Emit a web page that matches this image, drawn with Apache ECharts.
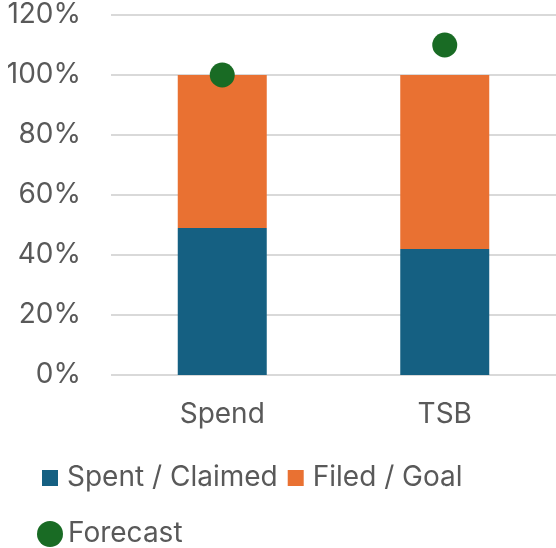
<!DOCTYPE html>
<html>
<head>
<meta charset="utf-8">
<script src="https://cdn.jsdelivr.net/npm/echarts@6/dist/echarts.min.js"></script>
<style>
  html, body { margin: 0; padding: 0; background: #fff; }
  #chart { width: 556px; height: 548px; }
</style>
</head>
<body>
<div id="chart"></div>
<script>
  const categories = ['Spend', 'TSB']
  const spentClaimed = [49, 42]
  const filedGoal = [51, 58]
  const forecast = [100, 110]

  const FONT = 'Inter, "Noto Sans", sans-serif'
  const TEXT = '#595959'

  const chart = echarts.init(document.getElementById('chart'))
  const option = {
    animation: false,
    textStyle: { fontFamily: FONT },
    grid: { left: 111, right: 0, top: 15, bottom: 173 },
    legend: [
      {
        data: ['Spent / Claimed', 'Filed / Goal'],
        left: 37,
        top: 459,
        itemWidth: 16,
        itemHeight: 16,
        itemGap: 10,
        icon: 'rect',
        textStyle: { fontSize: 28, color: TEXT, fontFamily: FONT, padding: [0, 0, 0, 4] }
      },
      {
        data: ['Forecast'],
        left: 32,
        top: 515,
        itemWidth: 26,
        itemHeight: 26,
        icon: 'circle',
        textStyle: { fontSize: 28, color: TEXT, fontFamily: FONT }
      }
    ],
    xAxis: {
      type: 'category',
      data: categories,
      axisLine: { show: false },
      axisTick: { show: false },
      axisLabel: { fontSize: 28, color: TEXT, margin: 26 }
    },
    yAxis: {
      type: 'value',
      min: 0,
      max: 120,
      interval: 20,
      axisLabel: { fontSize: 28, color: TEXT, margin: 30, formatter: '{value}%' },
      splitLine: { lineStyle: { color: '#d9d9d9', width: 2 } }
    },
    series: [
      {
        name: 'Spent / Claimed',
        type: 'bar',
        stack: 'total',
        barWidth: '40%',
        itemStyle: { color: '#156082' },
        data: spentClaimed
      },
      {
        name: 'Filed / Goal',
        type: 'bar',
        stack: 'total',
        itemStyle: { color: '#E97132' },
        data: filedGoal
      },
      {
        name: 'Forecast',
        type: 'scatter',
        symbol: 'circle',
        symbolSize: 25,
        itemStyle: { color: '#196B24', opacity: 1 },
        data: forecast,
        z: 5
      }
    ]
  }
  chart.setOption(option)
</script>
</body>
</html>
